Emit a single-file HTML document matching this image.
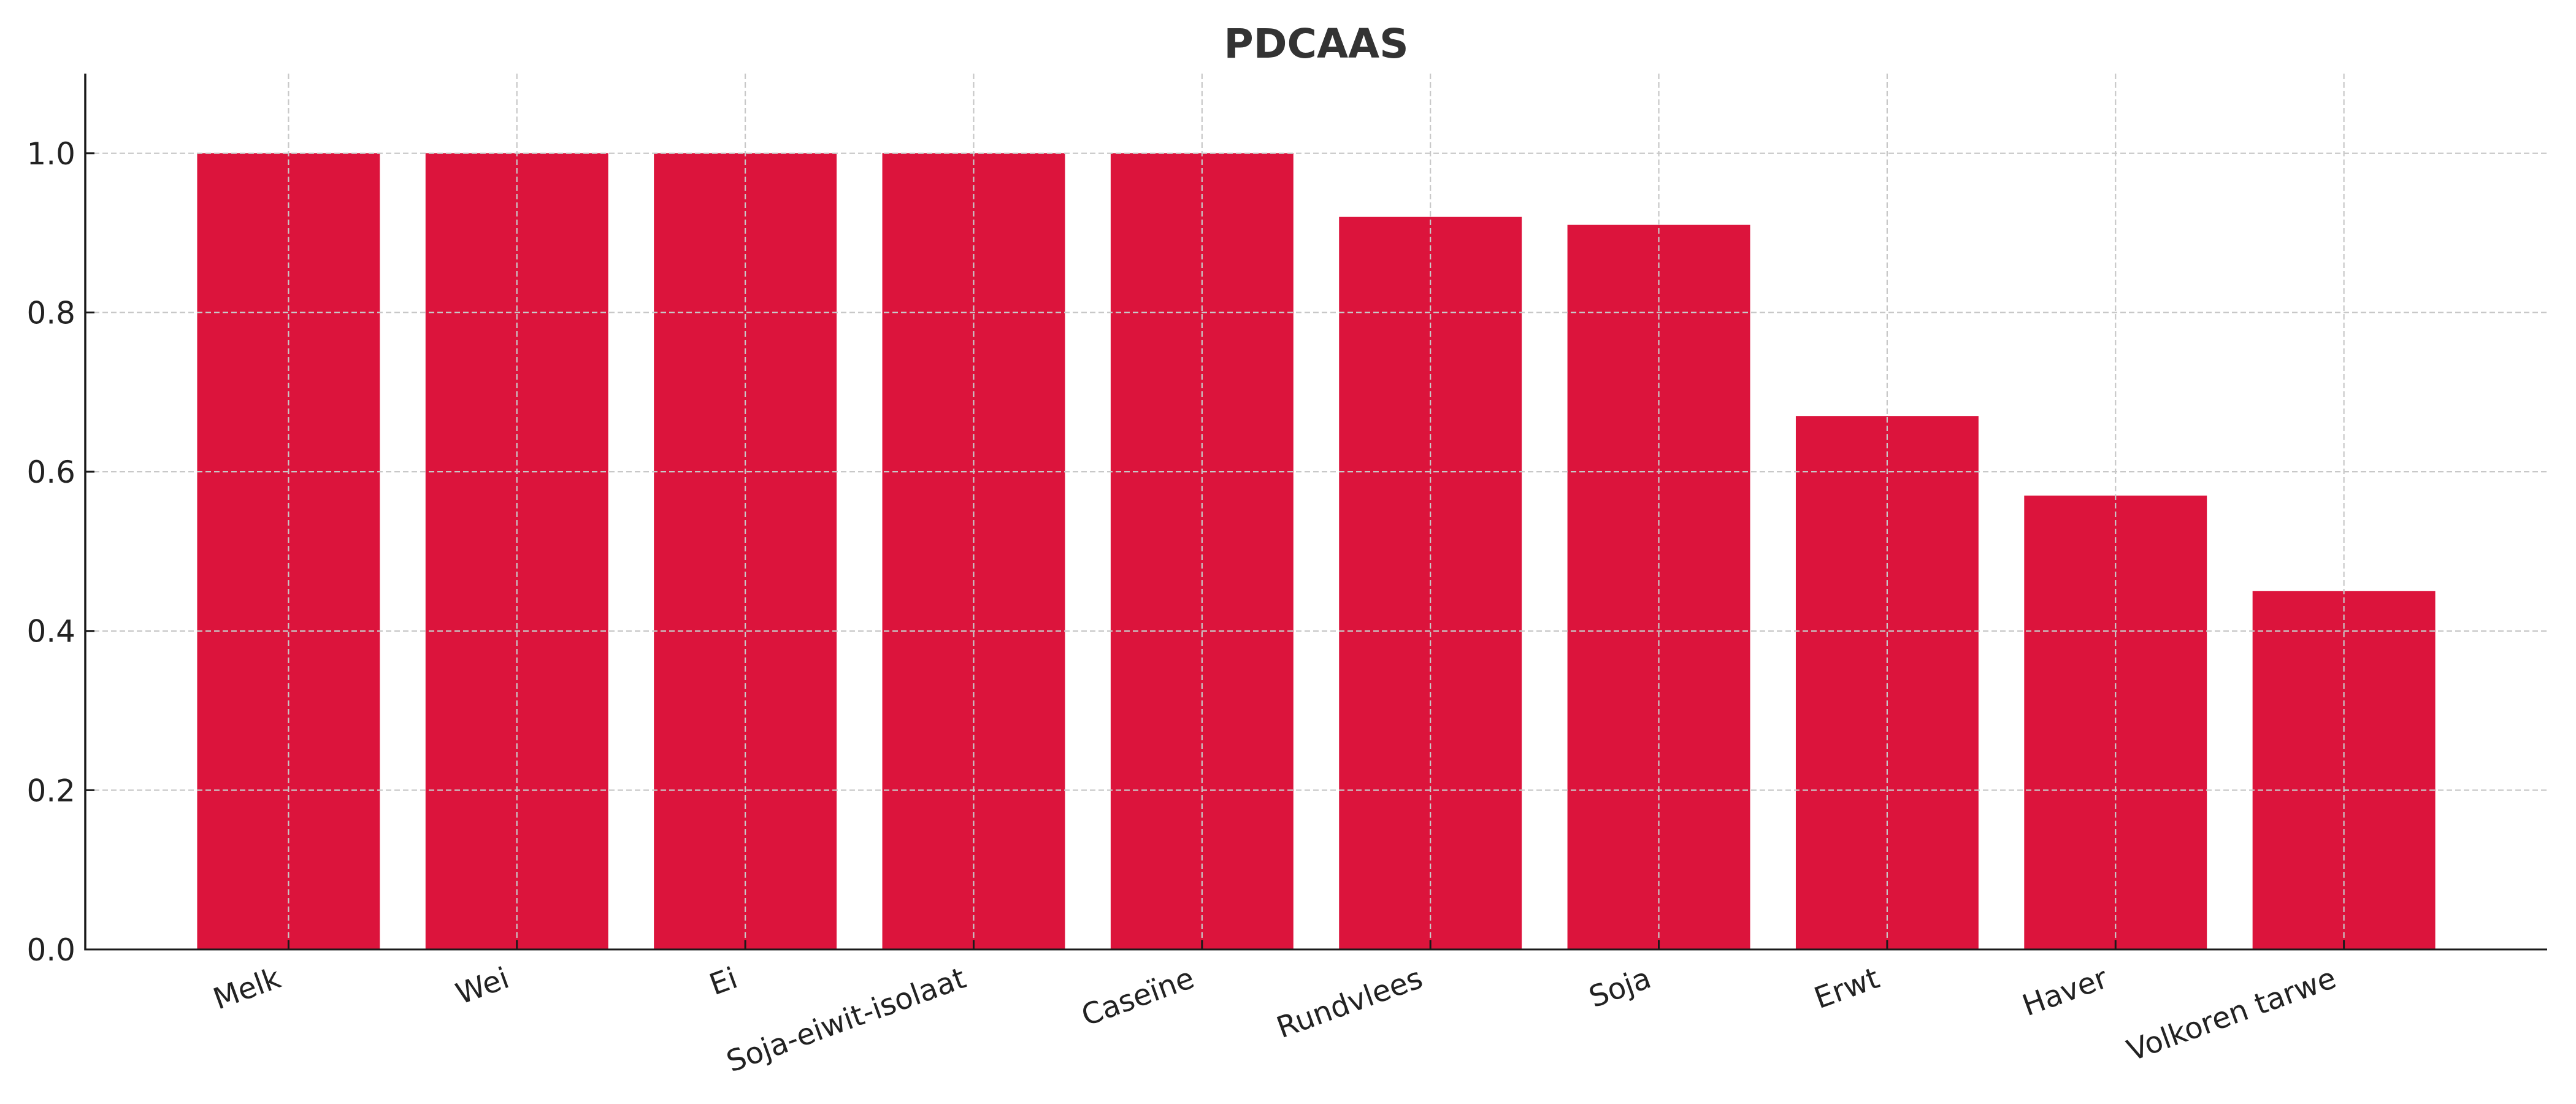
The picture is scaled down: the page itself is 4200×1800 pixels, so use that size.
<!DOCTYPE html>
<html><head><meta charset="utf-8"><style>
html,body{margin:0;padding:0;background:#fff;}
svg{display:block;font-family:"DejaVu Sans","Liberation Sans",sans-serif;}
</style></head><body>
<svg id="chart" width="4200" height="1800" viewBox="0 0 4200 1800" xmlns="http://www.w3.org/2000/svg">
<rect width="4200" height="1800" fill="#fff"/>
<text x="2146" y="94" text-anchor="middle" font-size="66" font-weight="bold" fill="#333">PDCAAS</text>
<g id="bars"></g>
<g id="grid"></g>
<g id="axes"></g>
</svg>
<script>
const categories = ["Melk","Wei","Ei","Soja-eiwit-isolaat","Caseïne","Rundvlees","Soja","Erwt","Haver","Volkoren tarwe"];
const values = [1.0,1.0,1.0,1.0,1.0,0.92,0.91,0.67,0.57,0.45];
const yTicks = [0,0.2,0.4,0.6,0.8,1.0];
const yTickLabels = ["0.0","0.2","0.4","0.6","0.8","1.0"];

const NS="http://www.w3.org/2000/svg";
const L=139,R=4153,T=120,B=1548;
const xMin=-0.89,xMax=categories.length-1+0.89,yMin=0,yMax=1.1;
function xs(i){return L+(i-xMin)/(xMax-xMin)*(R-L);}
function ys(v){return B-(v-yMin)/(yMax-yMin)*(B-T);}
const bw=0.8*(R-L)/(xMax-xMin);
function mk(tag,attrs,parent){const e=document.createElementNS(NS,tag);for(const k in attrs)e.setAttribute(k,attrs[k]);parent.appendChild(e);return e;}
const grid=document.getElementById('grid'),bars=document.getElementById('bars'),axes=document.getElementById('axes');

categories.forEach((c,i)=>{
  const b=mk('rect',{x:xs(i)-bw/2,y:ys(values[i]),width:bw,height:ys(0)-ys(values[i]),fill:'#DC143C'},bars);
  
  
});
categories.forEach((c,i)=>{
  const g=mk('line',{x1:xs(i),x2:xs(i),y1:T,y2:B,stroke:'#c8c8c8','stroke-width':2.2,'stroke-dasharray':'9,5'},grid);
  
  
});
yTicks.forEach((v,i)=>{
  const g=mk('line',{x1:L,x2:R,y1:ys(v),y2:ys(v),stroke:'#c8c8c8','stroke-width':2.2,'stroke-dasharray':'9,5'},grid);
  
  
});

const sl=mk('line',{x1:L,x2:L,y1:T,y2:B+1.5,stroke:'#1a1a1a','stroke-width':3.5},axes);


const sb=mk('line',{x1:L-1.5,x2:R,y1:B,y2:B,stroke:'#1a1a1a','stroke-width':3},axes);



yTicks.forEach((v,i)=>{
  const t=mk('line',{x1:L,x2:L+15,y1:ys(v),y2:ys(v),stroke:'#1a1a1a','stroke-width':3},axes);
  
  
  const tx=mk('text',{x:L-16,y:ys(v)+18,'text-anchor':'end','font-size':50,fill:'#222'},axes);
  tx.textContent=yTickLabels[i];
  
  
});
categories.forEach((c,i)=>{
  const x=xs(i);
  const t=mk('line',{x1:x,x2:x,y1:B,y2:B-15,stroke:'#1a1a1a','stroke-width':3},axes);
  
  
  const y0=B+16;
  const tx=mk('text',{x:x-24,y:y0+38,'text-anchor':'end','font-size':48,fill:'#222',transform:'rotate(-20 '+x+' '+y0+')'},axes);
  tx.textContent=c;
  
  
});
</script>
</body></html>
